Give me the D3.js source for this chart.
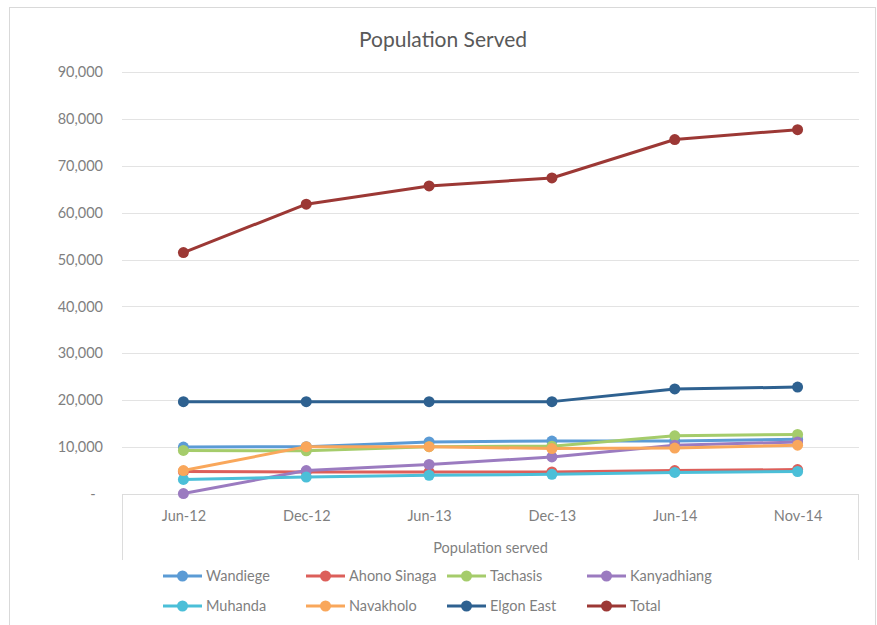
<!DOCTYPE html>
<html>
<head>
<meta charset="utf-8">
<script src="https://cdn.jsdelivr.net/npm/d3@7"></script>
<style>
  body { margin: 0; background: #fff; }
  text { font-family: Lato, "Open Sans", sans-serif; }
</style>
</head>
<body>
<svg width="877" height="625"></svg>
<script>
// periods on the x axis
var periods = ["Jun-12", "Dec-12", "Jun-13", "Dec-13", "Jun-14", "Nov-14"];
var yTicks = [0, 10000, 20000, 30000, 40000, 50000, 60000, 70000, 80000, 90000];

// one array per site
var wandiege    = [10000, 10100, 11100, 11300, 11300, 11700];
var ahonoSinaga = [4800, 4700, 4700, 4700, 5000, 5200];
var tachasis    = [9300, 9200, 10100, 10200, 12400, 12700];
var kanyadhiang = [100, 5000, 6300, 7900, 10400, 11100];
var muhanda     = [3100, 3600, 4000, 4200, 4600, 4800];
var navakholo   = [5000, 10100, 10100, 9700, 9800, 10400];
var elgonEast   = [19700, 19700, 19700, 19700, 22400, 22800];
var total       = [51500, 61800, 65700, 67400, 75600, 77700];

var seriesNames = ["Wandiege", "Ahono Sinaga", "Tachasis", "Kanyadhiang",
                   "Muhanda", "Navakholo", "Elgon East", "Total"];
var seriesValues = [wandiege, ahonoSinaga, tachasis, kanyadhiang,
                    muhanda, navakholo, elgonEast, total];
var seriesColors = ["#5B9BD5", "#DC5F5A", "#A5CC6B", "#9B7BC0",
                    "#4BBFD8", "#F9A75B", "#2E6190", "#9C3835"];

var svg = d3.select("svg"),
    plotLeft = 122, plotRight = 859, plotTop = 72, plotBottom = 494;

// outer chart border
svg.append("rect")
    .attr("x", 9.5).attr("y", 7.5)
    .attr("width", 866).attr("height", 640)
    .attr("fill", "none").attr("stroke", "#d9d9d9");

svg.append("text")
    .attr("x", 443).attr("y", 47)
    .attr("text-anchor", "middle")
    .attr("font-size", 21)
    .attr("fill", "#595959")
    .text("Population Served");

var x = d3.scalePoint().domain(periods).range([plotLeft, plotRight]).padding(0.5);
var y = d3.scaleLinear().domain([0, 90000]).range([plotBottom, plotTop]);

// gridlines
svg.append("g").selectAll("line")
  .data(yTicks.slice(1))
  .enter().append("line")
    .attr("x1", plotLeft).attr("x2", plotRight)
    .attr("y1", function(d) { return Math.round(y(d)) + 0.5; })
    .attr("y2", function(d) { return Math.round(y(d)) + 0.5; })
    .attr("stroke", "#e3e3e3");

// y axis labels, zero shown as a dash
var fmt = d3.format(",");
var yAxis = d3.axisLeft(y).tickValues(yTicks).tickSize(0).tickPadding(19)
    .tickFormat(function(d) { return d === 0 ? "-  " : fmt(d); });
svg.append("g")
    .attr("transform", "translate(" + plotLeft + ",0)")
    .call(yAxis)
    .call(function(g) { g.select(".domain").remove(); })
    .selectAll("text")
    .attr("font-size", 14.5)
    .attr("fill", "#7f7f7f")
    .style("white-space", "pre");

// box around the category labels
var box = svg.append("g").attr("stroke", "#dcdcdc").attr("fill", "none");
box.append("line").attr("x1", plotLeft).attr("x2", plotRight).attr("y1", plotBottom + 0.5).attr("y2", plotBottom + 0.5);
box.append("line").attr("x1", plotLeft + 0.5).attr("x2", plotLeft + 0.5).attr("y1", plotBottom).attr("y2", 560);
box.append("line").attr("x1", plotRight - 0.5).attr("x2", plotRight - 0.5).attr("y1", plotBottom).attr("y2", 560);

var xAxis = d3.axisBottom(x).tickSize(0).tickPadding(17);
svg.append("g")
    .attr("transform", "translate(0," + plotBottom + ")")
    .call(xAxis)
    .call(function(g) { g.select(".domain").remove(); })
    .selectAll("text")
    .attr("font-size", 14.5)
    .attr("fill", "#7f7f7f");

svg.append("text")
    .attr("x", (plotLeft + plotRight) / 2).attr("y", 553)
    .attr("text-anchor", "middle")
    .attr("font-size", 14.5)
    .attr("fill", "#7f7f7f")
    .text("Population served");

// lines and markers
var line = d3.line()
    .x(function(d, i) { return x(periods[i]); })
    .y(function(d) { return y(d); });

seriesValues.forEach(function(vals, s) {
  var g = svg.append("g");
  g.append("path")
    .attr("d", line(vals))
    .attr("fill", "none")
    .attr("stroke", seriesColors[s])
    .attr("stroke-width", 3)
    .attr("stroke-linejoin", "round");
  g.selectAll("circle")
    .data(vals)
    .enter().append("circle")
      .attr("cx", function(d, i) { return x(periods[i]); })
      .attr("cy", function(d) { return y(d); })
      .attr("r", 5.5)
      .attr("fill", seriesColors[s]);
});

// legend, two rows of four
var legendX = [163, 306, 447, 587], legendY = [576, 606];
var legend = svg.append("g").selectAll("g")
  .data(seriesNames)
  .enter().append("g")
    .attr("transform", function(d, i) {
      return "translate(" + legendX[i % 4] + "," + legendY[Math.floor(i / 4)] + ")";
    });
legend.append("line")
    .attr("x1", 0).attr("x2", 39)
    .attr("stroke", function(d, i) { return seriesColors[i]; })
    .attr("stroke-width", 3);
legend.append("circle")
    .attr("cx", 19.5).attr("r", 5.5)
    .attr("fill", function(d, i) { return seriesColors[i]; });
legend.append("text")
    .attr("x", 43).attr("dy", "0.35em")
    .attr("font-size", 14.5)
    .attr("fill", "#7f7f7f")
    .text(function(d) { return d; });
</script>
</body>
</html>
